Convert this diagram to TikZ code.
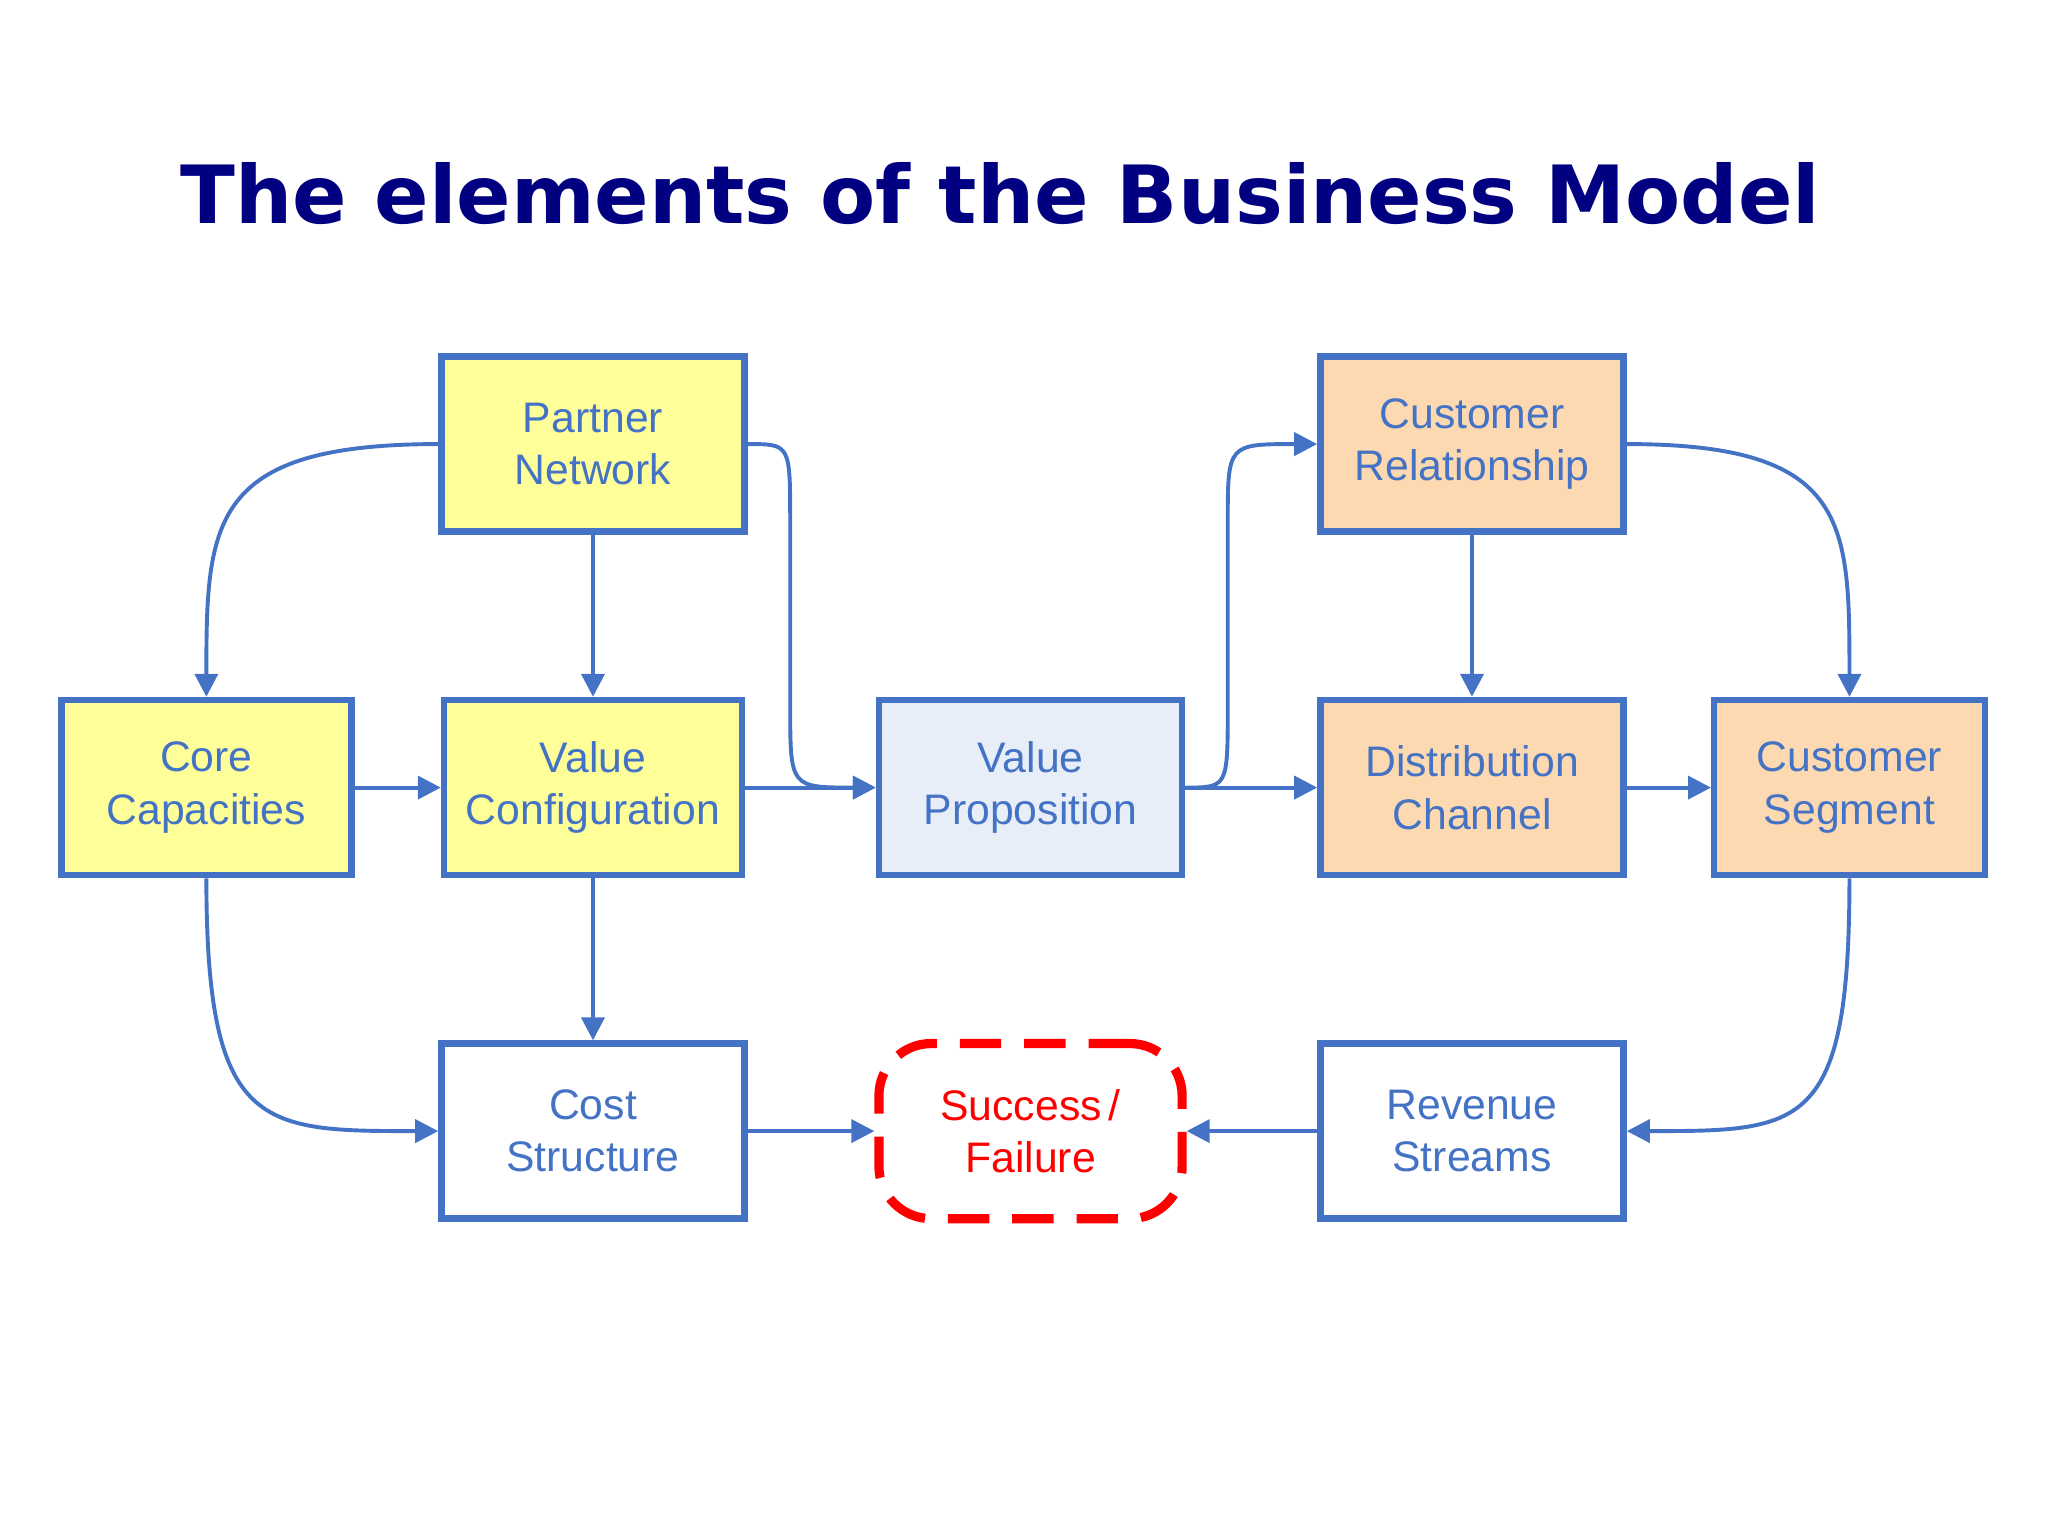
\documentclass[tikz,border=0pt]{standalone}
\usepackage{fontspec}
\setmainfont{Liberation Sans}
\newfontfamily\titlefont{DejaVu Sans}
\usetikzlibrary{arrows.meta}
\definecolor{bl}{HTML}{4472C4}
\definecolor{navy}{HTML}{000080}
\definecolor{yel}{HTML}{FFFF99}
\definecolor{ora}{HTML}{FCD9B0}
\definecolor{lbl}{HTML}{E8EEF8}
\begin{document}
\begin{tikzpicture}[x=0.01cm,y=-0.01cm,
  box/.style={draw=bl,line width=1.4pt,minimum width=2.32cm,minimum height=1.34cm,align=center,
    text=bl,font=\fontsize{9.3}{11.4}\selectfont,inner sep=0pt},
  con/.style={draw=bl,line width=0.85pt,-{Triangle[length=5pt,width=5pt]}}]
\useasboundingbox (0,0) rectangle (1568,1176);
\node[text=navy,font=\titlefont\bfseries] (title) at (766,148) {\resizebox{12.55cm}{!}{The elements of the Business Model}};
\node[box,fill=yel] (pn) at (454,340) {Partner\\Network};
\node[box,fill=yel,minimum width=2.22cm] (cc) at (158,603) {Core\\Capacities};
\node[box,fill=yel,minimum width=2.28cm] (vc) at (454,603) {Value\\Configuration};
\node[box,fill=lbl] (vp) at (789,603) {Value\\Proposition};
\node[box,fill=ora] (cr) at (1127,340) {Customer\\Relationship};
\node[box,fill=ora] (dc) at (1127,603) {Distribution\\Channel};
\node[box,fill=ora,minimum width=2.07cm] (cs) at (1416,603) {Customer\\Segment};
\node[box,fill=white] (cost) at (454,866) {Cost\\Structure};
\node[box,draw=red,text=red,dashed,dash pattern=on 9pt off 5pt,rounded corners=0.4cm,line width=2pt] (sf) at (789,866) {Success\,/\\Failure};
\node[box,fill=white] (rs) at (1127,866) {Revenue\\Streams};
\draw[con] (pn.west) .. controls (160,340) and (158,400) .. (cc.north);
\draw[con] (pn.south) -- (vc.north);
\draw[con] (pn.east) .. controls (605,340) .. (605,400) -- (605,540) .. controls (605,603) .. (vp.west);
\draw[con] (cc.east) -- (vc.west);
\draw[con] (vc.east) -- (vp.west);
\draw[con] (vp.east) .. controls (940,603) .. (940,540) -- (940,400) .. controls (940,340) .. (cr.west);
\draw[con] (vp.east) -- (dc.west);
\draw[con] (cr.south) -- (dc.north);
\draw[con] (cr.east) .. controls (1416,340) and (1416,400) .. (cs.north);
\draw[con] (dc.east) -- (cs.west);
\draw[con] (cc.south) .. controls (158,866) and (200,866) .. (cost.west);
\draw[con] (vc.south) -- (cost.north);
\draw[con] (cost.east) -- (sf.west);
\draw[con] (rs.west) -- (sf.east);
\draw[con] (cs.south) .. controls (1416,866) and (1380,866) .. (rs.east);
\end{tikzpicture}
\end{document}
